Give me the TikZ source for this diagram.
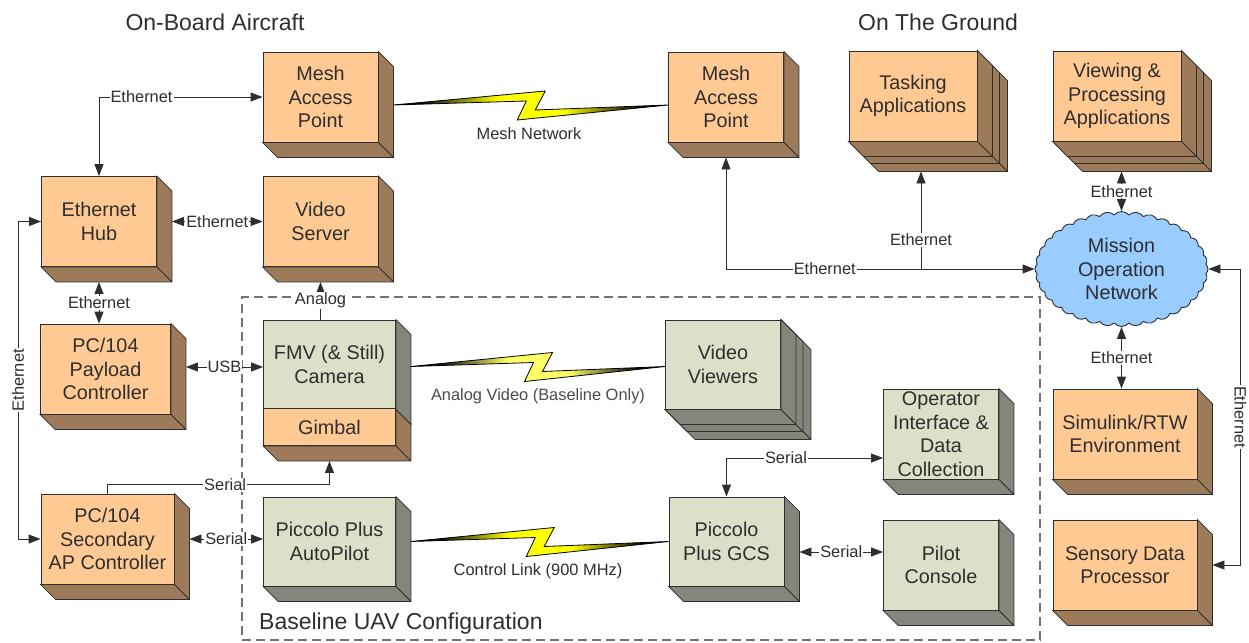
\documentclass[tikz,border=0pt]{standalone}
\usepackage{fontspec}
\setmainfont{Liberation Sans}
\usetikzlibrary{arrows.meta}
\usetikzlibrary{calc}
\usetikzlibrary{shapes.symbols}
\definecolor{faceo}{HTML}{FFC993}
\definecolor{sideo}{HTML}{9C7A5A}
\definecolor{faceg}{HTML}{DDE0C8}
\definecolor{sideg}{HTML}{83867A}
\definecolor{cloudb}{HTML}{99CCFF}
\definecolor{inkc}{HTML}{2E2E2E}
\definecolor{boltpale}{HTML}{FFFF66}
\pgfdeclarehorizontalshading{boltp}{100bp}{color(0bp)=(black); color(30bp)=(black); color(44bp)=(boltpale); color(56bp)=(boltpale); color(70bp)=(black); color(100bp)=(black)}
\pgfdeclarehorizontalshading{bolty}{100bp}{color(0bp)=(black); color(30bp)=(black); color(44bp)=(yellow); color(56bp)=(yellow); color(70bp)=(black); color(100bp)=(black)}
\tikzset{
    blockf/.style = {rectangle, draw=inkc, line width=0.9pt, align=center, inner sep=0pt, text=inkc,
        font=\fontsize{19.8}{23.6}\selectfont},
    blocko/.style = {blockf, fill=faceo},
    blockg/.style = {blockf, fill=faceg},
    wside/.style = {draw=inkc, line width=0.8pt, fill=sideo},
    gside/.style = {draw=inkc, line width=0.8pt, fill=sideg},
    edgen/.style = {line width=0.9pt, draw=inkc, {Triangle[length=12pt,width=9pt]}-{Triangle[length=12pt,width=9pt]}},
    edgee/.style = {line width=0.9pt, draw=inkc, -{Triangle[length=12pt,width=9pt]}},
    tag/.style = {fill=white, inner sep=1pt, text=inkc, font=\fontsize{16.4}{19}\selectfont},
    title/.style = {text=inkc, inner sep=0pt, font=\fontsize{23}{27}\selectfont},
    bolt/.style = {draw=black, line width=0.8pt, shading=#1}
}
% one box, seen from the front with its depth drawn behind it
\newcommand{\boxsides}[3]{\path[#2] (#1.north east) -- ++(#3,#3) -- ($(#1.south east)+(#3,#3)$)
    -- ($(#1.south west)+(#3,#3)$) -- (#1.south west) -- (#1.south east) -- cycle (#1.south east) -- ++(#3,#3);}
\newcommand{\boltlink}[3]{\path[bolt=#3] (#1) -- ($(#1)!.5!(#2)+(14.5,-14)$) -- ($(#1)!.5!(#2)+(4.5,5)$)
    -- (#2) -- ($(#1)!.5!(#2)+(-13.5,15)$) -- ($(#1)!.5!(#2)+(-4.5,-4)$) -- cycle;}

\begin{document}
\begin{tikzpicture}[x=1pt,y=-1pt]
\useasboundingbox (0,0) rectangle (1249,642);

\node[title] at (215,22) (onboard) {On-Board Aircraft};
\node[title] at (938,22) (onground) {On The Ground};

% baseline frame
\node[draw=black!55, line width=1.1pt, dash pattern=on 9pt off 5pt, minimum width=798pt, minimum height=343pt, inner sep=0pt] at (641,468.5) (frame) {};
\node[title, anchor=west] at (259,624) (framelabel) {Baseline UAV Configuration};

% air side
\node[blocko, minimum width=115pt, minimum height=90pt] at (320.5,97) (meshair) {Mesh\\Access\\Point};
\node[blocko, minimum width=115pt, minimum height=90pt] at (99,221.5) (hub) {Ethernet\\Hub};
\node[blocko, minimum width=115pt, minimum height=90pt] at (320.5,221.5) (server) {Video\\Server};
\node[blocko, minimum width=130pt, minimum height=90pt] at (105.5,369) (payload) {PC/104\\Payload\\Controller};
\node[blocko, minimum width=133pt, minimum height=90pt] at (107.5,539) (secondary) {PC/104\\Secondary\\AP Controller};
\node[blockg, minimum width=132pt, minimum height=89pt] at (329.5,364.5) (camera) {FMV (\& Still)\\Camera};
\node[blocko, minimum width=132pt, minimum height=37pt] at (329.5,427) (gimbal) {Gimbal};
\node[blockg, minimum width=132pt, minimum height=89pt] at (329.5,541.5) (autopilot) {Piccolo Plus\\AutoPilot};

% ground side
\node[blocko, minimum width=115pt, minimum height=90pt] at (726,97) (meshgnd) {Mesh\\Access\\Point};
\node[blocko, minimum width=128pt, minimum height=90pt] at (913,96) (tasking) {Tasking\\Applications};
\node[blocko, minimum width=128pt, minimum height=90pt] at (1117,96) (viewing) {Viewing \&\\Processing\\Applications};
\node[blockg, minimum width=115pt, minimum height=89pt] at (723,364.5) (viewers) {Video\\Viewers};
\node[blockg, minimum width=115pt, minimum height=89pt] at (726.5,541.5) (gcs) {Piccolo\\Plus GCS};
\node[blockg, minimum width=115pt, minimum height=90pt] at (941,434) (operator) {Operator\\Interface \&\\Data\\Collection};
\node[blockg, minimum width=115pt, minimum height=90pt] at (941,565) (pilot) {Pilot\\Console};
\node[blocko, minimum width=144pt, minimum height=90pt] at (1125,434) (simulink) {Simulink/RTW\\Environment};
\node[blocko, minimum width=144pt, minimum height=90pt] at (1125,565) (sensory) {Sensory Data\\Processor};
\node[cloud, cloud puffs=36, cloud puff arc=100, cloud ignores aspect, draw=inkc, line width=0.9pt, fill=cloudb, minimum width=173pt, minimum height=115pt, align=center, inner sep=0pt, text=inkc, font=\fontsize{19.8}{23.6}\selectfont] at (1121.5,269) (mission) {Mission\\Operation\\Network};

% box depths
\foreach \n in {meshair,hub,server,payload,secondary,meshgnd,simulink,sensory,gimbal} {\boxsides{\n}{wside}{15}}
\foreach \n in {autopilot,gcs,operator,pilot} {\boxsides{\n}{gside}{15}}
\path[gside] (camera.north east) -- ++(15,15) -- ($(camera.south east)+(15,15)$) -- (camera.south east) -- cycle;
\foreach \n in {tasking,viewing} {\foreach \d in {30,22,15} {\boxsides{\n}{wside}{\d}}}
\foreach \d in {30,22,15} {\boxsides{viewers}{gside}{\d}}

% wireless links
\coordinate (meshairr) at ($(meshair.east)+(15,8)$);
\coordinate (meshgndl) at ($(meshgnd.west)+(0,8)$);
\coordinate (camerar) at ($(camera.east)+(15,2)$);
\coordinate (viewersl) at ($(viewers.west)+(0,2)$);
\coordinate (autopilotr) at ($(autopilot.east)+(15,0)$);
\coordinate (gcsl) at (gcs.west);
\boltlink{meshairr}{meshgndl}{bolty}
\boltlink{camerar}{viewersl}{boltp}
\boltlink{autopilotr}{gcsl}{bolty}
\node[tag] at (529,134) (meshlabel) {Mesh Network};
\node[tag, text=black!70] at (538,396) (videolabel) {Analog Video (Baseline Only)};
\node[tag] at (538,571) (controllabel) {Control Link (900 MHz)};

% wired links
\draw[edgen] (hub.north) |- node[tag, pos=.63] {Ethernet} (meshair.west);
\draw[edgen] ($(hub.east)+(15,0)$) -- node[tag] {Ethernet} (server.west);
\draw[edgen] ($(hub.south)+(0,15)$) -- node[tag] {Ethernet} (hub.south |- payload.north);
\draw[edgen] (hub.west) -- ++(-23,0) |- node[tag, rotate=90, pos=.25] {Ethernet} (secondary.west);
\draw[edgen] ($(payload.east)+(15,-2)$) -- node[tag] {USB} ($(camera.west)+(0,2.5)$);
\draw[edgee] (camera.north -| server.south) -- node[tag] {Analog} ($(server.south)+(0,15)$);
\draw[edgee] (secondary.north) -- ++(0,-9) -| node[tag, pos=.265] {Serial} ($(gimbal.south)+(0,15)$);
\draw[edgen] ($(secondary.east)+(15,0)$) -- node[tag] {Serial} (secondary.east -| autopilot.west);
\draw[edgen] (meshgnd.south) ++(0,15) |- node[tag, pos=.66] {Ethernet} (mission.west);
\draw[edgee] (mission.west -| tasking.south) ++(8,0) -- node[tag, pos=.3] {Ethernet} ($(tasking.south)+(8,30)$);
\draw[edgen] ($(viewing.south)+(4.5,30)$) -- node[tag] {Ethernet} (mission.north);
\draw[edgen] (mission.south) -- node[tag] {Ethernet} ($(simulink.north)+(-3.5,0)$);
\draw[edgen] (mission.east) -- ++(32,0) |- node[tag, rotate=-90, pos=.25] {Ethernet} ($(sensory.east)+(15,0)$);
\draw[edgen] (gcs.north) |- node[tag, pos=.69] {Serial} ($(operator.west)+(0,24)$);
\draw[edgen] ($(gcs.east)+(15,10.5)$) -- node[tag] {Serial} ($(pilot.west)+(0,-13)$);

\end{tikzpicture}
\end{document}
